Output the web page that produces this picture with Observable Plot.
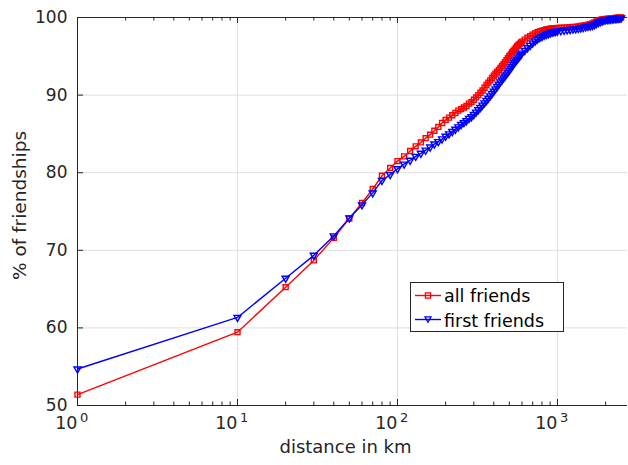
<!DOCTYPE html>
<html><head><meta charset="utf-8">
<script src="https://cdn.jsdelivr.net/npm/d3@7"></script>
<script src="https://cdn.jsdelivr.net/npm/@observablehq/plot@0.6"></script>
<style>
body{margin:0;background:#fff;}
#wrap{position:relative;width:628px;height:465px;font-family:"DejaVu Sans",sans-serif;}
#legend{position:absolute;left:410px;top:282px;width:152px;height:48px;border:1px solid #262626;background:#fff;}
#legend svg{display:block;}
</style></head><body><div id="wrap"></div>
<script>
// ---- data ----
const distanceKm = [
  1,10,20,30,40,50,60,70,80,90,100,110,120,130,140,150,160,170,180,190,200,210,220,230,240,250,260,270,280,290,
  300,310,320,330,340,350,360,370,380,390,400,410,420,430,440,450,460,470,480,490,500,510,520,530,540,550,560,570,580,590,600,
  625,650,675,700,725,750,775,800,825,850,875,900,925,950,975,1000,
  1050,1100,1150,1200,1250,1300,1350,1400,1450,1500,1550,1600,1650,1700,1750,1800,1850,1900,1950,2000,2050,2100,2150,2200,2250,2300,2350,2400,2450,2500];
const allFriends = [
  51.4,59.45,65.25,68.7,71.6,74.1,76.1,77.9,79.6,80.6,81.5,82.1,82.8,83.4,83.9,84.45,84.9,85.4,85.9,86.4,86.8,87.1,87.4,87.7,88.0,88.2,88.4,88.6,88.9,89.1,
  89.4,89.7,90.0,90.3,90.6,90.95,91.3,91.6,91.9,92.2,92.5,92.75,93.0,93.25,93.5,93.75,94.0,94.25,94.5,94.75,95.0,95.25,95.5,95.7,95.9,96.1,96.3,96.45,96.6,96.75,96.9,
  97.15,97.4,97.6,97.8,97.95,98.1,98.2,98.3,98.38,98.45,98.5,98.55,98.58,98.6,98.62,98.65,
  98.68,98.7,98.72,98.75,98.78,98.8,98.85,98.9,98.95,99.0,99.07,99.15,99.25,99.35,99.48,99.6,99.7,99.75,99.78,99.8,99.82,99.85,99.87,99.9,99.92,99.95,99.96,99.98,99.99,100];
const firstFriends = [
  54.7,61.35,66.4,69.35,71.85,74.15,75.85,77.4,79.0,79.75,80.5,81.1,81.6,82.1,82.5,82.9,83.3,83.7,84.0,84.35,84.7,85.0,85.3,85.6,85.9,86.2,86.45,86.7,87.0,87.2,
  87.5,87.8,88.1,88.4,88.7,89.0,89.3,89.6,89.9,90.2,90.5,90.8,91.1,91.4,91.7,91.95,92.2,92.45,92.7,92.95,93.2,93.45,93.7,93.95,94.2,94.4,94.6,94.8,95.0,95.2,95.4,
  95.75,96.1,96.4,96.7,96.95,97.2,97.4,97.55,97.7,97.8,97.9,98.0,98.08,98.15,98.2,98.25,
  98.3,98.35,98.4,98.45,98.5,98.55,98.6,98.65,98.72,98.8,98.85,98.9,98.97,99.05,99.2,99.35,99.45,99.55,99.63,99.7,99.72,99.75,99.78,99.8,99.83,99.85,99.87,99.9,99.92,99.93];
const seriesNames = ["all friends","first friends"];
const seriesColors = ["#ff0000","#0000ff"];
const yTicks = [50,60,70,80,90,100];
const yGrid = [60,70,80,90];
const xMajor = [1,10,100,1000];
const xExponents = ["0","1","2","3"];
const xMinor = [2,3,4,5,6,7,8,9,20,30,40,50,60,70,80,90,200,300,400,500,600,700,800,900,2000];
const xLabel = "distance in km";
const yLabel = "% of friendships";

// ---- build ----
const rowsA = distanceKm.map((d,i)=>({d, v: allFriends[i]})).filter(r=>r.v!=null);
const rowsB = distanceKm.map((d,i)=>({d, v: firstFriends[i]})).filter(r=>r.v!=null);
const triangleDown = {draw(ctx, size){
  const y = -Math.sqrt(size / (Math.sqrt(3) * 3));
  ctx.moveTo(0, -y * 2);
  ctx.lineTo(-Math.sqrt(3) * y, y);
  ctx.lineTo(Math.sqrt(3) * y, y);
  ctx.closePath();
}};
const axisColor = "#262626", gridColor = "#dfdfdf";
const fontFamily = "DejaVu Sans";

const chart = Plot.plot({
  width: 628, height: 465,
  marginLeft: 77, marginRight: 1, marginTop: 17, marginBottom: 60,
  style: {fontFamily, background: "#fff"},
  x: {type: "log", domain: [1, 2740], axis: null},
  y: {domain: [50, 100], axis: null},
  marks: [
    Plot.ruleX(xMajor.slice(1), {x: d=>d, stroke: gridColor, strokeWidth: 1}),
    Plot.ruleY(yGrid, {y: d=>d, stroke: gridColor, strokeWidth: 1}),
    // axis lines (left, bottom, top)
    Plot.ruleY([yTicks[0], yTicks[yTicks.length-1]], {y: d=>d, stroke: axisColor, strokeWidth: 1}),
    Plot.ruleX([xMajor[0]], {x: d=>d, stroke: axisColor, strokeWidth: 1}),
    // inward ticks bottom / top / left
    Plot.ruleX(xMajor, {x: d=>d, y1: 50, y2: 50, insetBottom: 6, stroke: axisColor}),
    Plot.ruleX(xMinor, {x: d=>d, y1: 50, y2: 50, insetBottom: 3.5, stroke: axisColor}),
    Plot.ruleX(xMajor, {x: d=>d, y1: 100, y2: 100, insetTop: 6, stroke: axisColor}),
    Plot.ruleX(xMinor, {x: d=>d, y1: 100, y2: 100, insetTop: 3.5, stroke: axisColor}),
    Plot.ruleY(yTicks, {y: d=>d, x1: 1, x2: 1, insetRight: -6, stroke: axisColor}),
    // tick labels
    Plot.text(yTicks, {y: d=>d, frameAnchor: "left", text: d=>String(d), textAnchor: "end", dx: -10, fontSize: 17, fill: axisColor}),
    Plot.text(xMajor, {x: d=>d, frameAnchor: "bottom", text: ()=>"10", textAnchor: "end", dx: 0, dy: 23, fontSize: 17.5, fill: axisColor}),
    Plot.text(xMajor, {x: d=>d, frameAnchor: "bottom", text: (d,i)=>xExponents[i], textAnchor: "start", dx: 2.5, dy: 16, fontSize: 13, fill: axisColor}),
    // axis titles
    Plot.text([xLabel], {frameAnchor: "bottom", text: d=>d, textAnchor: "middle", dx: -7, dy: 47, fontSize: 18, fill: axisColor}),
    Plot.text([yLabel], {frameAnchor: "left", text: d=>d, textAnchor: "middle", rotate: -90, dx: -57, dy: -6, fontSize: 18.5, fill: axisColor}),
    // series
    Plot.line(rowsA, {x: "d", y: "v", stroke: seriesColors[0], strokeWidth: 1.4}),
    Plot.dot(rowsA, {x: "d", y: "v", symbol: "square", r: 2.8, stroke: seriesColors[0], strokeWidth: 1.4, fill: "none"}),
    Plot.line(rowsB, {x: "d", y: "v", stroke: seriesColors[1], strokeWidth: 1.4}),
    Plot.dot(rowsB, {x: "d", y: "v", symbol: triangleDown, r: 2.6, stroke: seriesColors[1], strokeWidth: 1.4, fill: "none"})
  ]
});
const wrap = document.getElementById("wrap");
wrap.appendChild(chart);

// legend
const legend = document.createElement("div");
legend.id = "legend";
const sq = 5.2;
legend.innerHTML = `<svg width="152" height="48" font-family="${fontFamily}">
  <line x1="4" x2="30" y1="12.5" y2="12.5" stroke="${seriesColors[0]}" stroke-width="1.4"/>
  <rect x="${17-sq/2}" y="${12.5-sq/2}" width="${sq}" height="${sq}" fill="none" stroke="${seriesColors[0]}" stroke-width="1.3"/>
  <text x="33" y="19" font-size="17.5" fill="#000">${seriesNames[0]}</text>
  <line x1="4" x2="30" y1="36.5" y2="36.5" stroke="${seriesColors[1]}" stroke-width="1.4"/>
  <path d="M14,33.8 L20,33.8 L17,39.2 Z" fill="none" stroke="${seriesColors[1]}" stroke-width="1.3"/>
  <text x="33" y="43.5" font-size="17.5" fill="#000">${seriesNames[1]}</text>
</svg>`;
wrap.appendChild(legend);
</script>
</body></html>
